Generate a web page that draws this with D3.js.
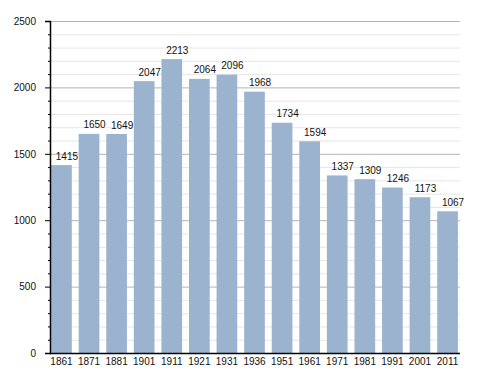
<!DOCTYPE html>
<html><head><meta charset="utf-8">
<script src="https://cdn.jsdelivr.net/npm/d3@7"></script>
<style>body{margin:0;background:#fff}svg{display:block}text{font-family:"Liberation Sans",Arial,sans-serif}</style>
</head><body>
<svg id="c" width="488" height="373"></svg>
<script>
const years = ["1861","1871","1881","1901","1911","1921","1931","1936","1951","1961","1971","1981","1991","2001","2011"];
const population = [1415,1650,1649,2047,2213,2064,2096,1968,1734,1594,1337,1309,1246,1173,1067];
const yTicks = [0,500,1000,1500,2000,2500];

(function(){
const svg = d3.select("#c");
const mLeft = 50, mRight = 460, mTop = 21, mBottom = 353;
const y = d3.scaleLinear().domain([0,2500]).range([mBottom, mTop]);
const x = d3.scaleBand().domain(years).range([mLeft, 459]).paddingInner(0.25).paddingOuter(0.04);

const minor = d3.range(100, 2500, 100).filter(v => v % 500 !== 0);
svg.append("g").selectAll("line").data(minor).join("line")
  .attr("x1", mLeft).attr("x2", mRight).attr("y1", d => y(d)+0.5).attr("y2", d => y(d)+0.5)
  .attr("stroke", "#e6e6e6").attr("stroke-width", 1);
svg.append("g").selectAll("line").data(yTicks.filter(v => v > 0)).join("line")
  .attr("x1", mLeft).attr("x2", mRight).attr("y1", d => y(d)+0.5).attr("y2", d => y(d)+0.5)
  .attr("stroke", "#b4b4b4").attr("stroke-width", 1);

svg.append("g").selectAll("rect").data(years).join("rect")
  .attr("x", d => x(d)).attr("width", x.bandwidth())
  .attr("y", (d,i) => y(population[i])).attr("height", (d,i) => mBottom - y(population[i]))
  .attr("fill", "#9bb3ce");

svg.append("g").selectAll("text").data(years).join("text")
  .attr("x", d => x(d) + x.bandwidth()/2 + 5.5).attr("y", (d,i) => y(population[i]) - 5.5)
  .attr("text-anchor", "middle").attr("font-size", 10).attr("fill", "#111")
  .text((d,i) => population[i]);

const yAxis = d3.axisLeft(y).tickValues(yTicks).tickSize(5).tickPadding(9).tickFormat(d3.format("d"));
const ga = svg.append("g").attr("transform", `translate(${mLeft},0)`).call(yAxis);
ga.select(".domain").attr("stroke", "#000").attr("stroke-width", 1.5);
ga.selectAll(".tick text").attr("font-size", 10).attr("fill", "#111").attr("font-family", '"Liberation Sans",Arial,sans-serif');
ga.selectAll(".tick line").attr("stroke", "#000");
svg.append("g").attr("transform", `translate(${mLeft},0)`)
  .call(d3.axisLeft(y).tickValues(minor).tickSize(2).tickFormat(""))
  .call(g => g.select(".domain").remove())
  .selectAll("line").attr("stroke", "#000");

const xa = svg.append("g").attr("transform", `translate(0,${mBottom})`)
  .call(d3.axisBottom(x).tickSize(0).tickPadding(5));
xa.select(".domain").attr("d", `M${mLeft},0.5H${mRight}`).attr("stroke", "#000").attr("stroke-width", 1.5);
xa.selectAll("text").attr("font-size", 10).attr("fill", "#111").attr("font-family", '"Liberation Sans",Arial,sans-serif');
})();
</script>
</body></html>
